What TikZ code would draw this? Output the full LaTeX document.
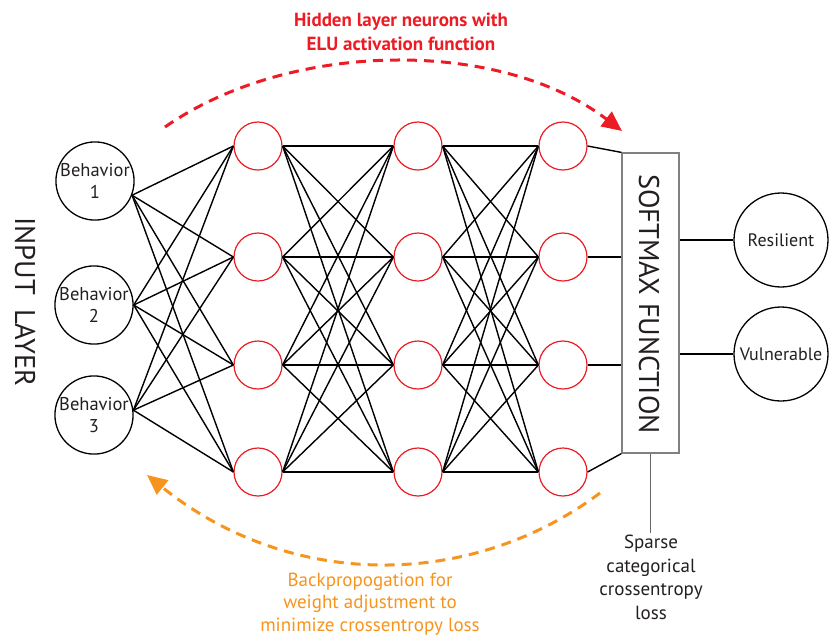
\documentclass[tikz,border=0pt]{standalone}
\usepackage{fontspec}
\setmainfont{PT Sans}
\usetikzlibrary{arrows.meta}
\definecolor{nred}{HTML}{ED1C24}
\definecolor{norange}{HTML}{F7941D}
\definecolor{ink}{HTML}{231F20}
\definecolor{boxgray}{HTML}{808080}
\begin{document}
\begin{tikzpicture}[x=1pt,y=-1pt,
  inp/.style={circle,draw=black,line width=1.3pt,minimum size=78pt,inner sep=0pt,align=center,font=\fontsize{18.5}{22.5}\selectfont,text=ink},
  hid/.style={circle,draw=nred,line width=1.2pt,minimum size=48pt,inner sep=0pt,fill=white},
  outn/.style={circle,draw=black,line width=1.3pt,minimum size=94pt,inner sep=0pt,font=\fontsize{18}{20}\selectfont,text=ink},
  wire/.style={line width=1.4pt,black},
  thin/.style={line width=1.1pt,boxgray!80!black},
  sbox/.style={draw=boxgray,line width=1.2pt,minimum width=57pt,minimum height=300pt,inner sep=0pt},
  bigtxt/.style={font=\fontsize{28.5}{30}\selectfont,text=ink,inner sep=0pt},
  arcline/.style={line width=3pt,dash pattern=on 10pt off 7pt},
]
\useasboundingbox (0,0) rectangle (835,638);

% input nodes
\node[inp] (b1) at (95,181) {Behavior\\1};
\node[inp] (b2) at (94,305) {Behavior\\2};
\node[inp] (b3) at (94,415) {Behavior\\3};
\node[bigtxt,rotate=-90] (inl) at (25,302) {INPUT\hspace{14pt}LAYER};

% hidden layers
\foreach \c/\x in {1/258,2/418,3/563}{
  \foreach \r/\y in {1/146,2/257,3/365,4/472}{
    \node[hid] (h\c\r) at (\x,\y) {};
  }
}

% softmax box
\node[sbox] (box) at (650.5,303) {};
\node[bigtxt,rotate=-90] (smx) at (649,304) {SOFTMAX FUNCTION};

% outputs
\node[outn] (res) at (781,240) {Resilient};
\node[outn] (vul) at (781,354) {Vulnerable};

% input -> hidden 1
\foreach \r in {1,2,3,4}{
  \draw[wire] (b1.-21) -- (h1\r.west);
  \draw[wire] (b2.east) -- (h1\r.west);
  \draw[wire] (b3.7) -- (h1\r.west);
}
% hidden -> hidden
\foreach \a in {1,2,3,4}{
  \foreach \b in {1,2,3,4}{
    \draw[wire] (h1\a.east) -- (h2\b.west);
    \draw[wire] (h2\a.east) -- (h3\b.west);
  }
}
% hidden 3 -> box
\draw[wire] (h31.east) -- (box.north west);
\draw[wire] (h32.east) -- (h32.east -| box.west);
\draw[wire] (h33.east) -- (h33.east -| box.west);
\draw[wire] (h34.east) -- (box.south west);
% box -> outputs
\draw[wire] (res.west -| box.east) -- (res.west);
\draw[wire] (vul.west -| box.east) -- (vul.west);

% loss
\coordinate (lossend) at (650.5,533);
\draw[thin] (box.south) -- (lossend);
\node[font=\fontsize{19}{23.5}\selectfont,text=ink,align=center,anchor=north,inner sep=0pt] (loss) at (651,535) {Sparse\\categorical\\crossentropy\\loss};

% forward arc
\coordinate (ra) at (165,127);
\coordinate (rb) at (622,131);
\draw[arcline,nred,-{Triangle[length=20pt,width=18pt]}] (ra) .. controls (290,40) and (500,38) .. (rb);
\node[font=\bfseries\fontsize{19}{24}\selectfont,text=nred,align=center,inner sep=0pt] (toplab) at (401,32) {Hidden layer neurons with\\ELU activation function};

% backward arc
\coordinate (oa) at (600,493);
\coordinate (ob) at (147,475);
\draw[arcline,norange,-{Triangle[length=20pt,width=18pt]}] (oa) .. controls (470,590) and (290,590) .. (ob);
\node[font=\fontsize{19}{22.5}\selectfont,text=norange,align=center,inner sep=0pt] (botlab) at (370,604) {Backpropogation for\\weight adjustment to\\minimize crossentropy loss};
\end{tikzpicture}
\end{document}
